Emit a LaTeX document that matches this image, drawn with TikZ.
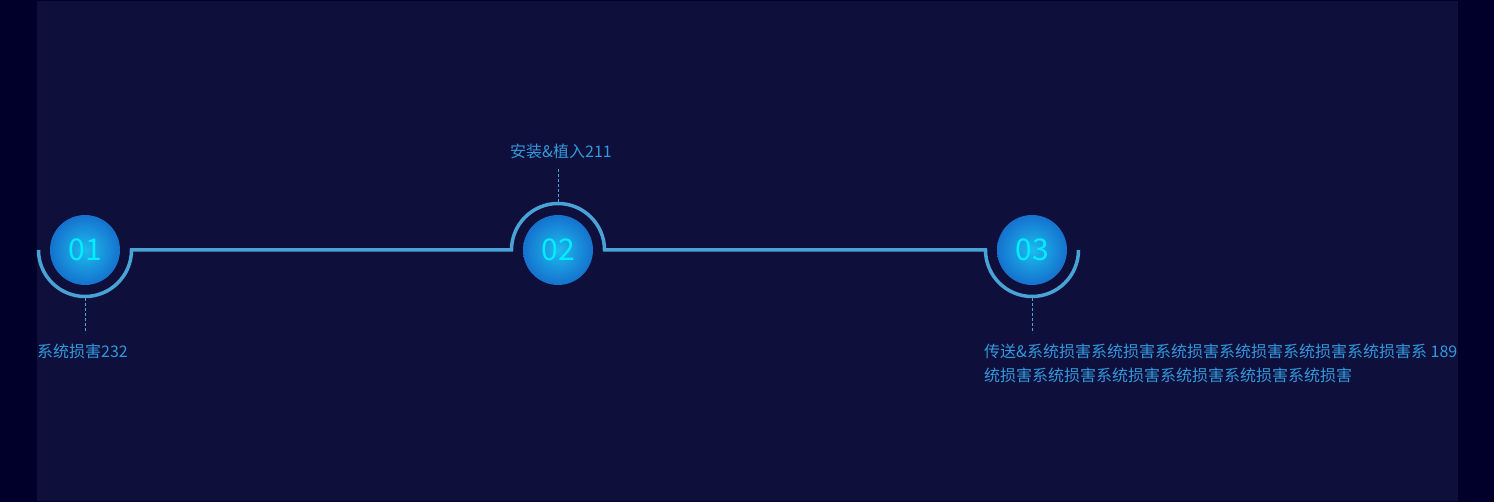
\documentclass[tikz,border=0pt]{standalone}
\usepackage{fontspec}
\setmainfont{Noto Sans CJK SC}
\usetikzlibrary{arrows,shapes}
\definecolor{outerbg}{HTML}{00002B}
\definecolor{panelbg}{HTML}{0E0F3A}
\definecolor{ringc}{HTML}{4AA3D6}
\definecolor{txtc}{HTML}{3399DD}
\definecolor{numc}{HTML}{00EEFF}
\definecolor{stepin}{HTML}{1DBBEE}
\definecolor{stepout}{HTML}{1572CE}
\tikzstyle{stepc}=[circle,minimum size=70pt,inner sep=0pt,inner color=stepin,outer color=stepout,text=numc,font=\fontsize{30}{30}\selectfont]
\tikzstyle{ring}=[line width=3.5pt,draw=ringc]
\tikzstyle{lead}=[draw=ringc,line width=0.8pt,dash pattern=on 3pt off 2pt]
\tikzstyle{lbl}=[text=txtc,inner sep=0pt,font=\fontsize{16}{24}\selectfont]

\begin{document}
\begin{tikzpicture}[x=1pt,y=1pt]
\fill[outerbg] (0,0) rectangle (1494,502);
\fill[panelbg] (37,1) rectangle (1458,501);
\useasboundingbox (0,0) rectangle (1494,502);
\node[stepc] (A) at (85,252) {01};
\node[stepc] (B) at (558,252) {02};
\node[stepc] (C) at (1032,252) {03};
\coordinate (a) at (85,169);\coordinate (b) at (558,334);\coordinate (c) at (1032,169);
\node[lbl,anchor=west] (LA) at (37,151) {系统损害232};
\node[lbl] (LB) at (561,351) {安装\&植入211};
\node[lbl,anchor=west,align=left] (LC) at (984,139) {传送\&系统损害系统损害系统损害系统损害系统损害系统损害系 189\\统损害系统损害系统损害系统损害系统损害系统损害};
\draw[ring] ([shift={(180:46.5pt)}]A.center) arc[start angle=180,end angle=360,radius=46.5pt]
  -- ([shift={(180:46.5pt)}]B.center) arc[start angle=180,end angle=0,radius=46.5pt]
  -- ([shift={(180:46.5pt)}]C.center) arc[start angle=180,end angle=360,radius=46.5pt];
\draw[lead] ([yshift=-48pt]A.center)--(a);\draw[lead] ([yshift=48pt]B.center)--(b);\draw[lead] ([yshift=-48pt]C.center)--(c);
\end{tikzpicture}
\end{document}
